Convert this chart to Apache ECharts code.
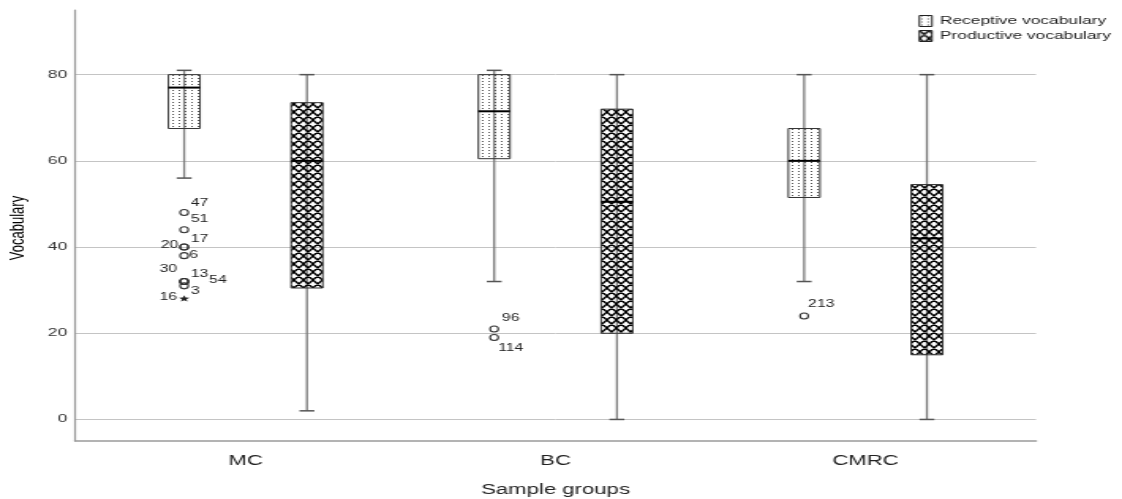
<!DOCTYPE html>
<html>
<head>
<meta charset="utf-8">
<script src="https://cdn.jsdelivr.net/npm/echarts@6/dist/echarts.min.js"></script>
<style>
html,body{margin:0;padding:0;background:#fff;overflow:hidden;width:1122px;height:499px}
#wrap{position:absolute;left:0;top:0;width:1122px;height:499px;overflow:hidden}
#chart{width:710px;height:499px;transform:scaleX(1.580282);transform-origin:0 0}
</style>
</head>
<body>
<div id="wrap"><div id="chart"></div></div>
<script>
// ---------- data ----------
const groups = ['MC', 'BC', 'CMRC'];
const yTicks = [0, 20, 40, 60, 80];
const seriesNames = ['Receptive vocabulary', 'Productive vocabulary'];

const receptiveMin    = [56, 32, 32];
const receptiveQ1     = [67.5, 60.5, 51.5];
const receptiveMedian = [77, 71.5, 60];
const receptiveQ3     = [80, 80, 67.5];
const receptiveMax    = [81, 81, 80];

const productiveMin    = [2, 0, 0];
const productiveQ1     = [30.5, 20, 15];
const productiveMedian = [60, 50.5, 42];
const productiveQ3     = [73.5, 72, 54.5];
const productiveMax    = [80, 80, 80];

// receptive-vocabulary outliers
const outlierGroup   = [0, 0, 0, 0, 0, 0, 0, 0, 0, 0, 1, 1, 2];
const outlierValue   = [48, 44, 40, 40, 38, 32, 32, 32, 31, 28, 21, 19, 24];
const outlierCase    = ['47', '51', '20', '17', '6', '30', '13', '54', '3', '16', '96', '114', '213'];
const outlierExtreme = [0, 0, 0, 0, 0, 0, 0, 0, 0, 1, 0, 0, 0];

// ---------- styling / layout ----------
const FONT = "'Liberation Sans', Arial, Helvetica, sans-serif";
const OFFSET = 0.198;          // box offset from group centre (axis units)
const labelPlacement = [        // [dx, dy, align] for the outlier case labels
  [4.2, -9, 'left'], [4.2, -11, 'left'], [-3.8, -2, 'right'], [4.2, -7.5, 'left'], [3.2, 0, 'left'],
  [-4.4, -12, 'right'], [4.2, -7, 'left'], [15.8, -1, 'left'], [4.2, 5, 'left'], [-4.4, -2, 'right'],
  [4.9, -11, 'left'], [2.5, 11, 'left'], [2.5, -12, 'left']
];

function dotCanvas() {
  const c = document.createElement('canvas'); c.width = 4; c.height = 3;
  const g = c.getContext('2d');
  g.fillStyle = '#555'; g.fillRect(1, 0, 1, 1);
  return c;
}
function hatchCanvas() {
  const c = document.createElement('canvas'); c.width = 6; c.height = 8;
  const g = c.getContext('2d');
  g.strokeStyle = '#000'; g.lineWidth = 1.4;
  g.beginPath();
  for (let k = -2; k <= 2; k++) {
    g.moveTo(6 * k - 6, -8); g.lineTo(6 * k + 12, 16);
    g.moveTo(6 * k + 12, -8); g.lineTo(6 * k - 6, 16);
  }
  g.stroke();
  return c;
}
const dotPattern = { image: dotCanvas(), repeat: 'repeat' };
const hatchPattern = { image: hatchCanvas(), repeat: 'repeat' };

function boxRenderer(off, pattern) {
  return function (params, api) {
    const g = api.value(0);
    const cx = api.coord([g + off, 0])[0];
    const yMin = api.coord([g, api.value(1)])[1];
    const yQ1 = api.coord([g, api.value(2)])[1];
    const yMed = api.coord([g, api.value(3)])[1];
    const yQ3 = api.coord([g, api.value(4)])[1];
    const yMax = api.coord([g, api.value(5)])[1];
    const hw = 10, cap = 4.7;
    return {
      type: 'group',
      children: [
        { type: 'line', shape: { x1: cx, y1: yMax, x2: cx, y2: yMin }, style: { stroke: '#7a7a7a', lineWidth: 1.3 } },
        { type: 'line', shape: { x1: cx - cap, y1: yMax, x2: cx + cap, y2: yMax }, style: { stroke: '#555', lineWidth: 1.5 } },
        { type: 'line', shape: { x1: cx - cap, y1: yMin, x2: cx + cap, y2: yMin }, style: { stroke: '#555', lineWidth: 1.5 } },
        { type: 'rect', shape: { x: cx - hw, y: yQ3, width: 2 * hw, height: yQ1 - yQ3 },
          style: { fill: pattern, stroke: '#333', lineWidth: 1 } },
        { type: 'line', shape: { x1: cx - hw, y1: yMed, x2: cx + hw, y2: yMed }, style: { stroke: '#000', lineWidth: 2 } }
      ]
    };
  };
}

function starPoints(cx, cy, ro, ri) {
  const pts = [];
  for (let i = 0; i < 10; i++) {
    const r = i % 2 === 0 ? ro : ri;
    const a = -Math.PI / 2 + i * Math.PI / 5;
    pts.push([cx + r * Math.cos(a), cy + r * Math.sin(a)]);
  }
  return pts;
}

const receptiveData = groups.map((_, i) => [i, receptiveMin[i], receptiveQ1[i], receptiveMedian[i], receptiveQ3[i], receptiveMax[i]]);
const productiveData = groups.map((_, i) => [i, productiveMin[i], productiveQ1[i], productiveMedian[i], productiveQ3[i], productiveMax[i]]);
const outlierData = outlierGroup.map((g, i) => [g, outlierValue[i]]);

const chart = echarts.init(document.getElementById('chart'), null, { renderer: 'canvas' });
chart.setOption({
  animation: false,
  textStyle: { fontFamily: FONT },
  grid: { left: 47.5, right: 54.4, top: 10, bottom: 58, outerBoundsMode: 'none', containLabel: false },
  legend: {
    orient: 'vertical', right: 2, top: 10, itemGap: 3,
    itemWidth: 8, itemHeight: 11, icon: 'rect',
    textStyle: { fontFamily: FONT, fontSize: 11, color: '#222', lineHeight: 11 },
    data: [
      { name: seriesNames[0], itemStyle: { color: dotPattern, borderColor: '#222', borderWidth: 1 } },
      { name: seriesNames[1], itemStyle: { color: hatchPattern, borderColor: '#222', borderWidth: 1 } }
    ],
    selectedMode: false
  },
  xAxis: {
    type: 'value', min: -0.55, max: 2.55,
    name: 'Sample groups', nameLocation: 'middle', nameGap: 42,
    nameTextStyle: { fontFamily: FONT, fontSize: 14, color: '#222' },
    axisLine: { show: true, onZero: false, lineStyle: { color: '#9a9a9a', width: 1.5 } },
    axisTick: { show: false },
    splitLine: { show: false },
    axisLabel: {
      customValues: [0, 1, 2], margin: 13,
      fontFamily: FONT, fontSize: 14, color: '#222',
      formatter: v => groups[Math.round(v)] || ''
    }
  },
  yAxis: {
    type: 'value', min: -5, max: 95,
    axisLine: { show: true, onZero: false, lineStyle: { color: '#9a9a9a', width: 1.2 } },
    axisTick: { show: false },
    splitLine: { show: true, showMinLine: false, showMaxLine: false, lineStyle: { color: '#c4c4c4', width: 1 } },
    axisLabel: {
      margin: 5, fontFamily: FONT, fontSize: 11, color: '#333',
      formatter: v => (yTicks.indexOf(v) >= 0 ? String(v) : '')
    }
  },
  graphic: [{
    type: 'text', x: 11.5, y: 228, rotation: Math.PI / 2,
    style: { text: 'Vocabulary', font: '13px ' + FONT, fill: '#000', align: 'center', verticalAlign: 'middle' }
  }],
  series: [
    {
      type: 'custom', name: seriesNames[0], renderItem: boxRenderer(-OFFSET, dotPattern),
      itemStyle: { color: dotPattern }, data: receptiveData, encode: { x: 0, y: [1, 2, 3, 4, 5] }, z: 3
    },
    {
      type: 'custom', name: seriesNames[1], renderItem: boxRenderer(OFFSET, hatchPattern),
      itemStyle: { color: hatchPattern }, data: productiveData, encode: { x: 0, y: [1, 2, 3, 4, 5] }, z: 3
    },
    {
      type: 'custom', name: 'outliers', data: outlierData, encode: { x: 0, y: 1 }, z: 4,
      renderItem: function (params, api) {
        const i = params.dataIndex;
        const p = api.coord([api.value(0) - OFFSET, api.value(1)]);
        const pl = labelPlacement[i];
        const marker = outlierExtreme[i]
          ? { type: 'polygon', shape: { points: starPoints(p[0], p[1], 3.5, 1.5) }, style: { fill: '#222' } }
          : { type: 'ellipse', shape: { cx: p[0], cy: p[1], rx: 2.6, ry: 3 }, style: { fill: 'none', stroke: '#333', lineWidth: 1.1 } };
        return {
          type: 'group',
          children: [
            marker,
            { type: 'text', x: p[0] + pl[0], y: p[1] + pl[1],
              style: { text: outlierCase[i], font: '10px ' + FONT, fill: '#222', align: pl[2], verticalAlign: 'middle' } }
          ]
        };
      }
    }
  ]
});
</script>
</body>
</html>
